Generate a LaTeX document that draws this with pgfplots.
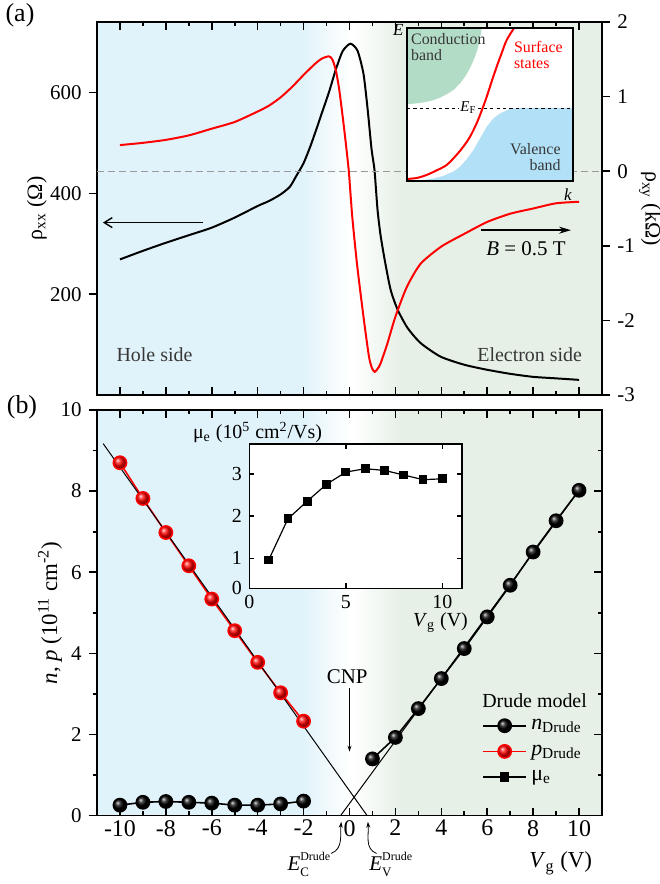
\documentclass[border=0pt]{standalone}
\usepackage{fontspec}
\setmainfont{Liberation Serif}
\usepackage{pgfplots}
\usepackage{pgfplotstable}
\pgfplotsset{compat=1.18}
\usetikzlibrary{arrows.meta}
\definecolor{bgblue}{RGB}{225,243,250}
\definecolor{bggreen}{RGB}{230,240,231}
\definecolor{cbgreen}{RGB}{178,220,197}
\definecolor{vbblue}{RGB}{178,224,246}
\definecolor{txtgray}{RGB}{55,55,55}
\newcommand{\fs}[1]{\fontsize{#1}{#1}\selectfont}
\newcommand{\EDrude}[1]{\textit{E}\rlap{\raisebox{5bp}{\fs{6}Drude}}\raisebox{-3.2bp}{\fs{6.5}#1}\phantom{\fs{6}Drude}}

\pgfplotstableread{
x y
-10 269
-9 286
-8 302
-7 317
-6 332
-5 352
-4 375
-3.5 385
-3 398
-2.6 413
-2.3 436
-2.0 460
-1.7 494
-1.4 533
-1.2 560
-0.9 600
-0.6 645
-0.3 682
0.04 697
0.35 683
0.61 637
0.79 567
0.96 488
1.09 446
1.22 368
1.35 318
1.53 269
1.79 209
2.1 169
2.53 133
3.1 103
3.97 76
5 60
6 50
7 42
8 36
9 33
10 30
}\rhoxx

\pgfplotstableread{
x y
-10 0.35
-9 0.38
-8 0.42
-7 0.48
-6 0.57
-5 0.66
-4 0.80
-3.5 0.88
-3 0.99
-2.5 1.13
-2 1.29
-1.5 1.44
-1.2 1.51
-0.9 1.54
-0.75 1.50
-0.6 1.36
-0.45 1.10
-0.3 0.74
-0.17 0.40
-0.03 0.0
0.12 -0.61
0.34 -1.28
0.63 -2.0
0.85 -2.49
0.98 -2.64
1.1 -2.69
1.22 -2.65
1.35 -2.58
1.65 -2.31
2.0 -1.95
2.5 -1.55
3.1 -1.24
4.0 -1.01
5 -0.84
6 -0.68
7 -0.57
8 -0.50
9 -0.43
10 -0.41
}\rhoxy

\pgfplotstableread{
x y
-10 8.70
-9 7.82
-8 6.98
-7 6.16
-6 5.34
-5 4.56
-4 3.78
-3 3.03
-2 2.33
}\pdrude

\pgfplotstableread{
x y
-10 0.26
-9 0.33
-8 0.35
-7 0.33
-6 0.31
-5 0.26
-4 0.26
-3 0.29
-2 0.36
}\ndrudeneg

\pgfplotstableread{
x y
1 1.40
2 1.93
3 2.64
4 3.38
5 4.12
6 4.90
7 5.68
8 6.50
9 7.27
10 8.02
}\ndrudepos

\pgfplotstableread{
x y
1 0.96
2 1.94
3 2.36
4 2.76
5 3.05
6 3.13
7 3.09
8 2.98
9 2.87
10 2.89
}\mue

\begin{document}
\begin{tikzpicture}
\pgfplotsset{
  every axis/.append style={scale only axis, line width=0.8pt,
    /pgf/number format/assume math mode=true,
    major tick length=4bp, minor tick length=2.2bp,
    every tick/.style={line width=0.8pt, black}},
}
% ---------------- panel (a), left axis
\begin{axis}[at={(0bp,210.35bp)}, anchor=south west, width=252.5bp, height=186.5bp,
  xmin=-11, xmax=11, ymin=0, ymax=740,
  xtick={-10,-8,...,10}, minor x tick num=1, xticklabels={}, xtick align=inside, xtick pos=both,
  ytick={200,400,600}, ytick align=outside, ytick pos=left,
  yticklabel style={font=\fs{10.5}},
  ylabel={ρ\textsubscript{xx} (Ω)},
  ylabel style={font=\fs{11}, at={(axis description cs:-0.119,0.5)}, anchor=center},
  axis on top, clip=false]
\fill[bgblue] (axis cs:-11,0) rectangle (axis cs:-2,740);
\shade[left color=bgblue, right color=white] (axis cs:-2.01,0) rectangle (axis cs:0,740);
\shade[left color=white, right color=bggreen] (axis cs:0.2,0) rectangle (axis cs:2.21,740);
\fill[bggreen] (axis cs:2.2,0) rectangle (axis cs:11,740);
\addplot[black, line width=1pt, smooth, tension=0.4] table {\rhoxx};
\draw[-{Straight Barb[length=4bp,width=5bp]}, line width=0.7pt] (axis cs:-6.38,342) -- (axis cs:-10.74,342);
\draw[-{Stealth[length=6bp,width=3.5bp]}, line width=0.7pt] (axis cs:5.72,327) -- (axis cs:9.65,327);
\node[font=\fs{10.5}] at (axis cs:7.69,291) {\textit{B} = 0.5 T};
\node[anchor=west, font=\fs{10}, text=txtgray] at (axis cs:-10.47,80) {Hole side};
\node[anchor=east, font=\fs{10}, text=txtgray] at (axis cs:10.45,80) {Electron side};
\end{axis}
% ---------------- panel (a), right axis
\begin{axis}[at={(0bp,210.35bp)}, anchor=south west, width=252.5bp, height=186.5bp,
  xmin=-11, xmax=11, ymin=-3, ymax=2, axis x line=none, axis y line*=right,
  ytick={-3,-2,-1,0,1,2}, ytick align=outside,
  yticklabel style={font=\fs{10.5}},
  ylabel={ρ\textsubscript{xy} (kΩ)},
  ylabel style={font=\fs{11}, at={(axis description cs:1.095,0.5)}, anchor=center, rotate=180}]
\addplot[gray!80, line width=0.6pt, dash pattern=on 3.5bp off 2bp] coordinates {(-11,0) (11,0)};
\addplot[red, line width=1pt, smooth, tension=0.4] table {\rhoxy};
\end{axis}
% ---------------- inset band diagram
\begin{axis}[at={(155bp,317.35bp)}, anchor=south west, width=83bp, height=76.5bp,
  xmin=0, xmax=1, ymin=0, ymax=1, xtick=\empty, ytick=\empty,
  axis background/.style={fill=white}, axis on top, clip=false]
\addplot[fill=cbgreen, draw=none] coordinates {(0,1) (0.45,1) (0.44,0.93) (0.423,0.854) (0.405,0.80) (0.383,0.746) (0.355,0.69) (0.319,0.637) (0.285,0.60) (0.248,0.572) (0.20,0.545) (0.157,0.528) (0.105,0.515) (0.056,0.507) (0,0.502)} -- cycle;
\addplot[fill=vbblue, draw=none] coordinates {(1,0.478) (0.68,0.478) (0.621,0.472) (0.56,0.441) (0.52,0.409) (0.48,0.354) (0.44,0.278) (0.40,0.202) (0.359,0.141) (0.319,0.093) (0.278,0.061) (0.218,0.033) (0.157,0.015) (0.077,0.004) (0,0) (1,0)} -- cycle;
\addplot[black, line width=0.9pt, dash pattern=on 1.6bp off 1.6bp] coordinates {(0,0.474) (1,0.474)};
\addplot[red, line width=1pt, smooth, tension=0.5] coordinates {(0,0.013) (0.06,0.02) (0.117,0.039) (0.18,0.07) (0.238,0.104) (0.29,0.16) (0.339,0.224) (0.38,0.29) (0.419,0.376) (0.45,0.46) (0.48,0.55) (0.51,0.65) (0.54,0.746) (0.57,0.835) (0.6,0.92) (0.645,1.0)};
\node[fill=white, inner sep=0.6pt, font=\fs{7.5}] at (axis cs:0.37,0.48) {\textit{E}\textsubscript{F}};
\node[anchor=north west, align=left, font=\fs{8}, text=txtgray, inner sep=0pt] at (axis cs:0.02,0.97) {Conduction\\band};
\node[anchor=north west, align=left, font=\fs{8}, text=red, inner sep=0pt] at (axis cs:0.64,0.92) {Surface\\states};
\node[anchor=south east, align=right, font=\fs{8}, text=txtgray, inner sep=0pt] at (axis cs:0.93,0.06) {Valence\\band};
\node[anchor=east, font=\fs{8.5}, inner sep=1pt] at (axis cs:-0.005,0.985) {\textit{E}};
\node[font=\fs{8.5}] at (axis cs:0.97,-0.09) {\textit{k}};
\end{axis}
% ---------------- panel (b)
\begin{axis}[at={(0bp,0bp)}, anchor=south west, width=252.5bp, height=202.85bp,
  xmin=-11, xmax=11, ymin=0, ymax=10,
  xtick={-10,-8,...,10}, minor x tick num=1, xtick align=inside, xtick pos=both,
  ytick={0,2,...,10}, minor y tick num=1, ytick align=outside, ytick pos=left,
  xticklabel style={font=\fs{12}, yshift=1.5bp}, yticklabel style={font=\fs{10.5}},
  ylabel={\textit{n}, \textit{p} (10\textsuperscript{11} cm\textsuperscript{-2})},
  ylabel style={font=\fs{11.5}, at={(axis description cs:-0.093,0.5)}, anchor=center},
  axis on top, clip=false,
  legend style={at={(axis cs:5.75,2.50)}, anchor=north west, draw=none, fill=none,
    font=\fs{11}, inner sep=0pt, row sep=2.2bp},
  legend cell align=left,
  legend image code/.code={\draw[mark repeat=2,mark phase=2,#1] plot coordinates {(0bp,0bp) (10.8bp,0bp) (21.7bp,0bp)};}]
\fill[bgblue] (axis cs:-11,0) rectangle (axis cs:-2,10);
\shade[left color=bgblue, right color=white] (axis cs:-2.01,0) rectangle (axis cs:0,10);
\shade[left color=white, right color=bggreen] (axis cs:0.2,0) rectangle (axis cs:2.21,10);
\fill[bggreen] (axis cs:2.2,0) rectangle (axis cs:11,10);
\addplot[red, line width=0.8pt, mark=ball, mark size=3.3bp, mark options={ball color=red}, forget plot] table {\pdrude};
\addplot[black, line width=0.5pt, forget plot] coordinates {(-10.73,9.17) (0.77,0)};
\addplot[black, line width=0.5pt, forget plot] coordinates {(-0.39,0) (10,8.02)};
\addplot[black, line width=0.8pt, mark=ball, mark size=3.3bp, mark options={ball color=black}, forget plot] table {\ndrudeneg};
\addplot[black, line width=0.8pt, mark=ball, mark size=3.3bp, mark options={ball color=black}, forget plot] table {\ndrudepos};
\addlegendimage{black, line width=0.8pt, mark=ball, mark size=3.3bp, mark options={ball color=black}}
\addlegendentry{\textit{n}\textsubscript{Drude}}
\addlegendimage{red, line width=0.8pt, mark=ball, mark size=3.3bp, mark options={ball color=red}}
\addlegendentry{\textit{p}\textsubscript{Drude}}
\addlegendimage{black, line width=0.8pt, mark=square*, mark size=1.9bp}
\addlegendentry{μ\textsubscript{e}}
\node[anchor=west, font=\fs{10}, inner sep=0pt] at (axis cs:5.75,2.84) {Drude model};
\node[font=\fs{10.5}] at (axis cs:-0.1,3.42) {CNP};
\draw[-{Stealth[length=3bp,width=2bp]}, line width=0.5pt] (axis cs:0,3.14) -- (axis cs:0,1.58);
\draw[-{Stealth[length=3bp,width=2bp]}, line width=0.4pt] (axis cs:-0.80,-0.93) to[out=20,in=-95] (axis cs:-0.36,-0.15);
\draw[-{Stealth[length=3bp,width=2bp]}, line width=0.4pt] (axis cs:1.18,-0.93) to[out=160,in=-85] (axis cs:0.80,-0.15);
\node[font=\fs{10.5}, inner sep=0pt] at (axis cs:-1.58,-1.2) {\EDrude{C}};
\node[font=\fs{10.5}, inner sep=0pt] at (axis cs:2.0,-1.2) {\EDrude{V}};
\node[font=\fs{11.5}] at (axis cs:9.2,-1.17) {\textit{V}\textsubscript{g} (V)};
\end{axis}
% right ticks of (b), pointing in
\begin{axis}[at={(0bp,0bp)}, anchor=south west, width=252.5bp, height=202.85bp,
  xmin=-11, xmax=11, ymin=0, ymax=10, axis x line=none, axis y line*=right,
  ytick={0,2,...,10}, minor y tick num=1, ytick align=inside, yticklabels={}]
\end{axis}
% ---------------- inset mobility
\begin{axis}[at={(76.15bp,113.7bp)}, anchor=south west, width=106.2bp, height=72bp,
  xmin=0, xmax=11, ymin=0.29, ymax=3.71,
  xtick={0,5,10}, ytick={0.29,1,2,3}, yticklabels={0,1,2,3},
  tick align=inside, tick pos=both, major tick length=2.5bp,
  ticklabel style={font=\fs{10}},
  axis background/.style={fill=white}, clip=false]
\addplot[black, line width=0.6pt, mark=square*, mark size=1.9bp] table {\mue};
\node[anchor=west, font=\fs{10}] at (rel axis cs:-0.30,1.08) {μ\textsubscript{e} (10\textsuperscript{5} cm\textsuperscript{2}/Vs)};
\node[font=\fs{10}] at (rel axis cs:0.90,-0.235) {\textit{V}\textsubscript{g} (V)};
\end{axis}
% labels
\node[font=\fs{13}] at (-38.5bp,400.35bp) {(a)};
\node[font=\fs{13}] at (-37.5bp,204.35bp) {(b)};
\pgfresetboundingbox
\path[use as bounding box] (-48.5bp,-34.15bp) rectangle (281.5bp,407.85bp);
\end{tikzpicture}
\end{document}
